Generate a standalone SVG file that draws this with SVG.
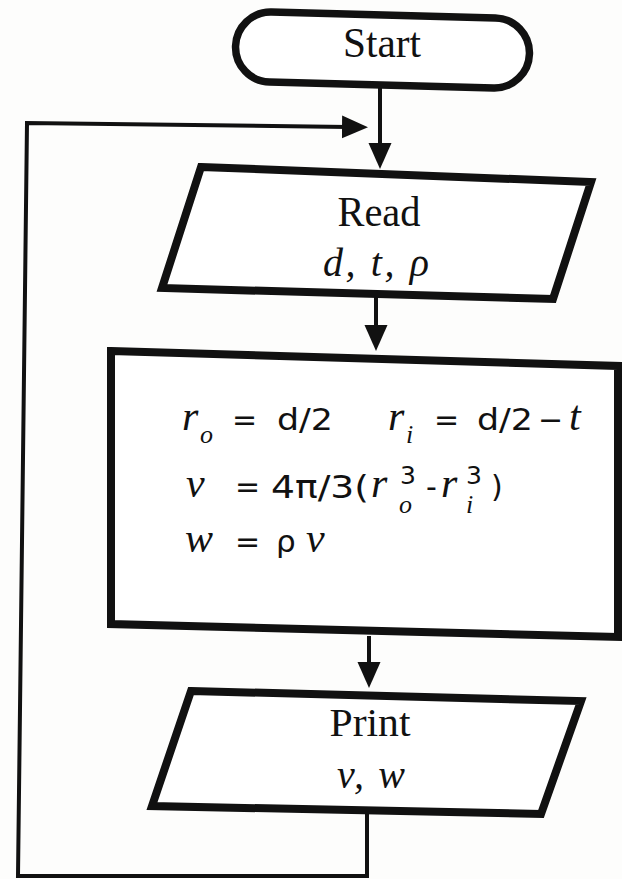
<svg xmlns="http://www.w3.org/2000/svg" width="622" height="879" viewBox="0 0 622 879">
<style>
.bg{fill:#fdfdfc}
.shape{fill:#ffffff;stroke:#111;stroke-width:8;stroke-linejoin:miter}
.pill{fill:#ffffff;stroke:#111;stroke-width:7.5}
.conn{fill:none;stroke:#111;stroke-width:4;stroke-linejoin:miter}
.lbl{font-family:"Liberation Serif","Times New Roman",serif;fill:#111;text-anchor:middle}
.it{font-family:"Liberation Serif","Times New Roman",serif;font-style:italic;fill:#111}
.sn{font-family:"DejaVu Sans","Liberation Sans",sans-serif;fill:#111}
</style>
<defs>
<marker id="ah" markerUnits="userSpaceOnUse" markerWidth="26" markerHeight="24" refX="6" refY="11.5" orient="auto" viewBox="0 0 26 23">
<path d="M0,0 L26,11.5 L0,23 Z" fill="#111"/>
</marker>
</defs>
<rect class="bg" x="0" y="0" width="622" height="879"/>

<g id="connectors">
<path class="conn" d="M380,86 V149" marker-end="url(#ah)"/>
<path class="conn" d="M376,296 V331" marker-end="url(#ah)"/>
<path class="conn" d="M369,636 V668" marker-end="url(#ah)"/>
<path class="conn" d="M367,812 L367,876 L18,876 L27,123 L348,127" marker-end="url(#ah)"/>
</g>

<g id="start">
<rect class="pill" x="235.5" y="15" width="294" height="70" rx="35" transform="rotate(1.5 382 50)"/>
<text class="lbl" x="382" y="57" font-size="42" textLength="78" lengthAdjust="spacingAndGlyphs">Start</text>
</g>

<g id="read">
<polygon class="shape" points="201,167 591,182 553,299 162,288"/>
<text class="lbl" x="379" y="226" font-size="42" textLength="83" lengthAdjust="spacingAndGlyphs">Read</text>
<text class="it" x="376" y="276" font-size="40" text-anchor="middle" textLength="106" lengthAdjust="spacing">d, t, ρ</text>
</g>

<g id="process">
<polygon class="shape" points="111,351 618,366 618,637 111,624"/>
<!-- line 1 -->
<text class="it" x="182" y="430" font-size="42">r</text>
<text class="it" x="200" y="443" font-size="26">o</text>
<text class="sn" x="232" y="430" font-size="30">=</text>
<text class="sn" x="277" y="430" font-size="31" textLength="56" lengthAdjust="spacingAndGlyphs">d/2</text>
<text class="it" x="388" y="430" font-size="42">r</text>
<text class="it" x="406" y="443" font-size="26">i</text>
<text class="sn" x="434" y="430" font-size="30">=</text>
<text class="sn" x="477" y="430" font-size="31" textLength="56" lengthAdjust="spacingAndGlyphs">d/2</text>
<text class="sn" x="538" y="430" font-size="30">−</text>
<text class="it" x="569" y="430" font-size="42">t</text>
<!-- line 2 -->
<text class="it" x="186" y="497" font-size="42">v</text>
<text class="sn" x="235" y="497" font-size="30">=</text>
<text class="sn" x="271" y="498" font-size="32" textLength="98" lengthAdjust="spacingAndGlyphs">4π/3(</text>
<text class="it" x="371" y="497" font-size="42">r</text>
<text class="sn" x="400" y="484" font-size="25">3</text>
<text class="it" x="399" y="513" font-size="26">o</text>
<text class="sn" x="426" y="497" font-size="30">-</text>
<text class="it" x="441" y="497" font-size="42">r</text>
<text class="sn" x="466" y="484" font-size="25">3</text>
<text class="it" x="466" y="513" font-size="26">i</text>
<text class="sn" x="491" y="497" font-size="30">)</text>
<!-- line 3 -->
<text class="it" x="185" y="552" font-size="42">w</text>
<text class="sn" x="235" y="552" font-size="30">=</text>
<text class="sn" x="276" y="552" font-size="31">ρ</text>
<text class="it" x="306" y="552" font-size="42">v</text>
</g>

<g id="print">
<polygon class="shape" points="191,691 581,701 541,814 152,806"/>
<text class="lbl" x="370" y="736" font-size="40" textLength="81" lengthAdjust="spacingAndGlyphs">Print</text>
<text class="it" x="371" y="788" font-size="40" text-anchor="middle" textLength="68" lengthAdjust="spacing">v, w</text>
</g>
</svg>
